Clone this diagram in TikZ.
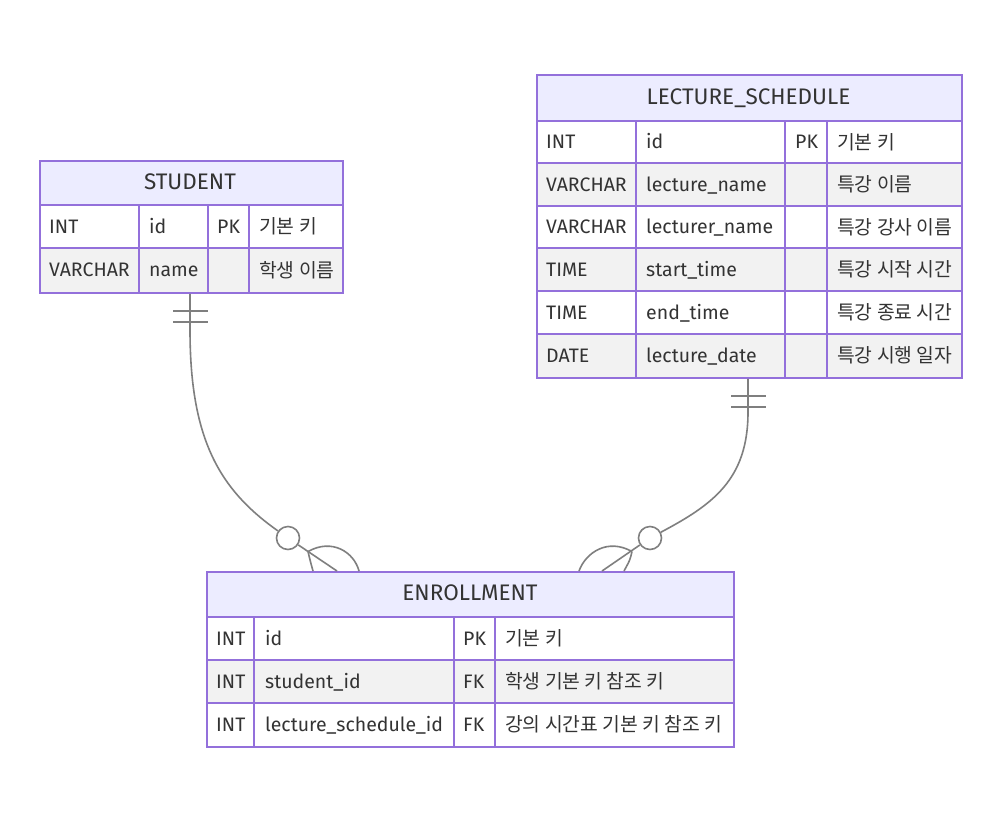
\documentclass[tikz,border=0pt]{standalone}
\usepackage{fontspec}
\setmainfont{Fira Sans}
\newfontfamily\kr{Noto Sans CJK KR}
\usetikzlibrary{calc}
\definecolor{bd}{HTML}{9370DB}
\definecolor{hd}{HTML}{ECECFF}
\definecolor{alt}{HTML}{F2F2F2}
\definecolor{tx}{HTML}{333333}
\definecolor{ln}{HTML}{7F7F7F}
\tikzset{
  cell/.style={anchor=west, inner sep=0pt, text=tx, text height=13.5pt, text depth=0pt, font=\fontsize{19.5}{22}\selectfont},
  kcell/.style={cell, text height=14pt, font=\fontsize{19.3}{22}\selectfont\kr},
  title/.style={anchor=center, inner sep=0pt, text=tx, text height=15.5pt, text depth=0pt, font=\fontsize{22.5}{24}\selectfont},
  grid/.style={draw=bd, line width=1.6pt},
  frame/.style={draw=bd, line width=1.8pt, inner sep=0pt, anchor=north west},
  rel/.style={draw=ln, line width=1.6pt},
  zcircle/.style={circle, draw=ln, line width=1.6pt, fill=white, minimum size=23pt, inner sep=0pt},
}
\begin{document}
\begin{tikzpicture}[x=1pt,y=-1pt]
\useasboundingbox (0,0) rectangle (1000,820);
\fill[white] (0,0) rectangle (1000,820);

% ---------- STUDENT ----------
\fill[hd] (39,160) rectangle (342,205);
\fill[white] (39,205) rectangle (342,248);
\fill[alt] (39,248) rectangle (342,292);
\draw[grid] (39,205) -- (342,205) (39,248) -- (342,248);
\foreach \x in {139,208,249} \draw[grid] (\x,205) -- (\x,292);
\node[frame, minimum width=303pt, minimum height=132pt] (student) at (39,160) {};
\node[title] (sT) at (190,182) {STUDENT};
\node[cell] (s11) at (49,226.5) {INT};
\node[cell] (s12) at (149,226.5) {id};
\node[cell] (s13) at (217,226.5) {PK};
\node[kcell] (s14) at (259,226.5) {기본 키};
\node[cell] (s21) at (49,270) {VARCHAR};
\node[cell] (s22) at (149,270) {name};
\node[kcell] (s24) at (259,270) {학생 이름};

% ---------- LECTURE_SCHEDULE ----------
\fill[hd] (536,74) rectangle (961,121);
\fill[white] (536,121) rectangle (961,163);
\fill[alt] (536,163) rectangle (961,206);
\fill[white] (536,206) rectangle (961,248);
\fill[alt] (536,248) rectangle (961,291);
\fill[white] (536,291) rectangle (961,334);
\fill[alt] (536,334) rectangle (961,377);
\foreach \y in {121,163,206,248,291,334} \draw[grid] (536,\y) -- (961,\y);
\foreach \x in {636,785,827} \draw[grid] (\x,121) -- (\x,377);
\node[frame, minimum width=425pt, minimum height=303pt] (lecture) at (536,74) {};
\node[title] (lT) at (748.5,97) {LECTURE\_SCHEDULE};
\node[cell] (l11) at (546,142) {INT};
\node[cell] (l12) at (646,142) {id};
\node[cell] (l13) at (795,142) {PK};
\node[kcell] (l14) at (837,142) {기본 키};
\node[cell] (l21) at (546,184.5) {VARCHAR};
\node[cell] (l22) at (646,184.5) {lecture\_name};
\node[kcell] (l24) at (837,184.5) {특강 이름};
\node[cell] (l31) at (546,227) {VARCHAR};
\node[cell] (l32) at (646,227) {lecturer\_name};
\node[kcell] (l34) at (837,227) {특강 강사 이름};
\node[cell] (l41) at (546,269.5) {TIME};
\node[cell] (l42) at (646,269.5) {start\_time};
\node[kcell] (l44) at (837,269.5) {특강 시작 시간};
\node[cell] (l51) at (546,312.5) {TIME};
\node[cell] (l52) at (646,312.5) {end\_time};
\node[kcell] (l54) at (837,312.5) {특강 종료 시간};
\node[cell] (l61) at (546,355.5) {DATE};
\node[cell] (l62) at (646,355.5) {lecture\_date};
\node[kcell] (l64) at (837,355.5) {특강 시행 일자};

% ---------- ENROLLMENT ----------
\fill[hd] (206,571) rectangle (733,617);
\fill[white] (206,617) rectangle (733,660);
\fill[alt] (206,660) rectangle (733,703);
\fill[white] (206,703) rectangle (733,746);
\foreach \y in {617,660,703} \draw[grid] (206,\y) -- (733,\y);
\foreach \x in {254,454,495} \draw[grid] (\x,617) -- (\x,746);
\node[frame, minimum width=527pt, minimum height=175pt] (enroll) at (206,571) {};
\node[title] (eT) at (470,593) {ENROLLMENT};
\node[cell] (e11) at (216,638.5) {INT};
\node[cell] (e12) at (265,638.5) {id};
\node[cell] (e13) at (463,638.5) {PK};
\node[kcell] (e14) at (505,638.5) {기본 키};
\node[cell] (e21) at (216,681.5) {INT};
\node[cell] (e22) at (265,681.5) {student\_id};
\node[cell] (e23) at (463,681.5) {FK};
\node[kcell] (e24) at (505,681.5) {학생 기본 키 참조 키};
\node[cell] (e31) at (216,724.5) {INT};
\node[cell] (e32) at (265,724.5) {lecture\_schedule\_id};
\node[cell] (e33) at (463,724.5) {FK};
\node[kcell] (e34) at (505,724.5) {강의 시간표 기본 키 참조 키};

% ---------- relation STUDENT -> ENROLLMENT ----------
\coordinate (sA) at ($(student.south west)+(151,0)$);
\coordinate (eA) at ($(enroll.north west)+(131,0)$);
\coordinate (f1) at (308,551.5);
\node[zcircle] (c1) at (288,538) {};
\draw[rel] (sA) -- (190,330) .. controls (190,440) and (220,490) .. (c1);
\draw[rel] (c1) -- (eA);
\draw[rel] ($(sA)+(-17,17)$) -- ++(35,0);
\draw[rel] ($(sA)+(-17,28)$) -- ++(35,0);
\draw[rel] (f1) .. controls (310,560) .. ($(enroll.north west)+(107,0)$);
\draw[rel] (f1) .. controls (332,538) and (354,552) .. ($(enroll.north west)+(153,0)$);

% ---------- relation LECTURE_SCHEDULE -> ENROLLMENT ----------
\coordinate (lA) at ($(lecture.south west)+(212,0)$);
\coordinate (eB) at ($(enroll.north west)+(396,0)$);
\coordinate (f2) at (632,551.5);
\node[zcircle] (c2) at (650,538) {};
\draw[rel] (lA) -- (748,412) .. controls (748,480) and (712,505) .. (c2);
\draw[rel] (c2) -- (eB);
\draw[rel] ($(lA)+(-17,17)$) -- ++(35,0);
\draw[rel] ($(lA)+(-17,28)$) -- ++(35,0);
\draw[rel] (f2) .. controls (630,560) .. ($(enroll.north west)+(418,0)$);
\draw[rel] (f2) .. controls (608,538) and (586,552) .. ($(enroll.north west)+(373,0)$);
\end{tikzpicture}
\end{document}
